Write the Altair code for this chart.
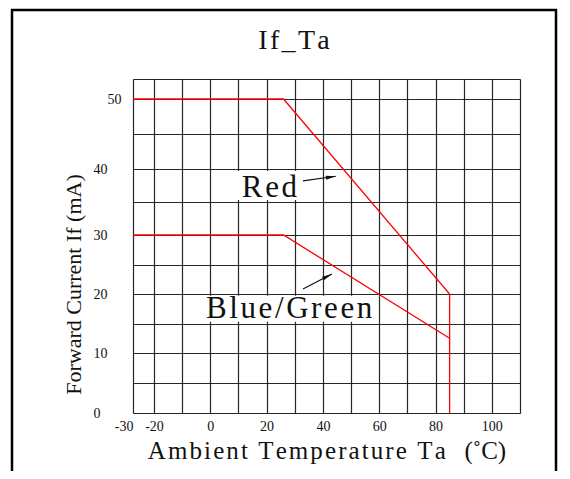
import altair as alt
import pandas as pd

# ---- data ----
red_x = [-30, 26, 85, 85]
red_y = [50, 50, 20, 0]
bg_x = [-30, 26, 85]
bg_y = [30, 30, 12.5]

x_grid = [-30, -20, -10, 0, 10, 20, 30, 40, 50, 60, 70, 80, 90, 100, 110]
y_grid = [0, 5, 10, 15, 20, 25, 30, 35, 40, 45, 50, 55]

HS = "\u200a"  # hair space for the wide letter spacing of the original


def spaced(s):
    return HS.join(list(s))


ann_text = [spaced("Red"), spaced("Blue/Green")]
ann_tx = [21, 28]
ann_ty = [35.8, 15.9]
box_x1 = [7.7, -9.0]
box_x2 = [31.9, 59.6]
box_y1 = [35.3, 15.3]
box_y2 = [39.7, 19.7]
arr_x1 = [32.9, 32.9]
arr_y1 = [38.2, 20.85]
arr_x2 = [44.6, 43.2]
arr_y2 = [38.9, 23.4]
arr_angle = [81, 63]

TITLE = spaced("If_Ta")
X_TITLE = spaced("Ambient Temperature Ta") + "\u00a0\u00a0\u00a0" + "(˚C)"
Y_TITLE = "Forward Current If (mA)"

FONT = "Liberation Serif"

lines_df = pd.DataFrame(
    {"x": red_x + bg_x, "y": red_y + bg_y,
     "s": ["Red"] * len(red_x) + ["Blue/Green"] * len(bg_x),
     "o": list(range(len(red_x))) + list(range(len(bg_x)))}
)
ann_df = pd.DataFrame({"t": ann_text, "x": ann_tx, "y": ann_ty,
                       "bx1": box_x1, "bx2": box_x2, "by1": box_y1, "by2": box_y2,
                       "ax1": arr_x1, "ay1": arr_y1, "ax2": arr_x2, "ay2": arr_y2,
                       "ang": arr_angle})

W, H = 387, 334
xs = alt.Scale(domain=[-30, -20, 110], range=[0, 21, W], nice=False, zero=False)
ys = alt.Scale(domain=[0, 10, 20, 30, 40, 50, 55], range=[H, 274, 215, 156, 90, 20, 0],
               nice=False, zero=False)

xaxis = alt.Axis(
    values=x_grid, grid=True, ticks=False, tickSize=0, domain=False,
    labelExpr="(datum.value == -30 || (datum.value % 20 == 0 && datum.value <= 100)) ? ('' + datum.value) : ''",
    labelAlign={"condition": {"test": "datum.value == -30", "value": "right"}, "value": "center"},
    labelBaseline="top", labelPadding=6, labelOverlap=False, labelFlush=False, labelBound=False,
    labelFont=FONT, labelFontSize=14, labelColor="#111",
    title=X_TITLE, titleFont=FONT, titleFontSize=25,
    titleFontWeight="normal", titleColor="#111", titleBaseline="alphabetic", titleY=45,
    gridColor="#111", gridWidth=1.2, gridOpacity=0.9,
)
yaxis = alt.Axis(
    values=y_grid, grid=True, ticks=False, tickSize=0, domain=False,
    labelExpr="(datum.value % 10 == 0 && datum.value <= 50) ? datum.label : ''",
    labelAlign="left", labelBaseline="middle",
    labelPadding={"condition": {"test": "datum.value == 50", "value": 26}, "value": 40},
    labelOverlap=False, labelFlush=False, labelBound=False,
    labelFont=FONT, labelFontSize=14, labelColor="#111",
    title=Y_TITLE, titleFont=FONT, titleFontSize=22,
    titleFontWeight="normal", titleColor="#111", titleBaseline="alphabetic",
    titleAlign="center", titleAngle=270, titleX=-53, titleY=205,
    gridColor="#111", gridWidth=1.2, gridOpacity=0.9,
)

X = alt.X("x:Q", scale=xs, axis=xaxis)
Y = alt.Y("y:Q", scale=ys, axis=yaxis)

boxes = alt.Chart(ann_df).mark_rect(fill="white", stroke=None).encode(
    x=alt.X("bx1:Q", scale=xs, axis=xaxis), x2="bx2:Q",
    y=alt.Y("by1:Q", scale=ys, axis=yaxis), y2="by2:Q",
)

lines = alt.Chart(lines_df).mark_line(color="#ff0000", strokeWidth=1.3).encode(
    x=X, y=Y, detail="s:N", order="o:Q"
)

texts = alt.Chart(ann_df).mark_text(
    font=FONT, fontSize=31, color="#111", align="center", baseline="alphabetic"
).encode(x=X, y=Y, text="t:N")

arrows = alt.Chart(ann_df).mark_rule(color="#111", strokeWidth=1.2).encode(
    x=alt.X("ax1:Q", scale=xs, axis=xaxis), x2="ax2:Q",
    y=alt.Y("ay1:Q", scale=ys, axis=yaxis), y2="ay2:Q",
)
heads = alt.Chart(ann_df).mark_point(
    shape="M0,0L0.4,2L-0.4,2Z", filled=True, color="#111", size=100, opacity=1
).encode(
    x=alt.X("ax2:Q", scale=xs, axis=xaxis),
    y=alt.Y("ay2:Q", scale=ys, axis=yaxis),
    angle=alt.Angle("ang:Q", scale=None),
)

frame_df = pd.DataFrame({"title": [TITLE]})
frame = alt.Chart(frame_df).mark_rect(
    filled=False, stroke="black", strokeWidth=2.5
).encode(
    x=alt.value(-121), x2=alt.value(423), y=alt.value(-69), y2=alt.value(430)
)
title = alt.Chart(frame_df).mark_text(
    font=FONT, fontSize=28, color="#111", align="center", baseline="alphabetic"
).encode(x=alt.value(161), y=alt.value(-30), text="title:N")

chart = alt.layer(boxes, lines, texts, arrows, heads, frame, title).properties(
    width=W, height=H,
    padding={"left": 125, "top": 71, "right": 42, "bottom": 58},
    autosize=alt.AutoSizeParams(type="none"),
).configure_view(stroke="black", strokeWidth=1.5).configure(background="white")

chart.save("out.html", embed_options={"renderer": "svg", "actions": False})
